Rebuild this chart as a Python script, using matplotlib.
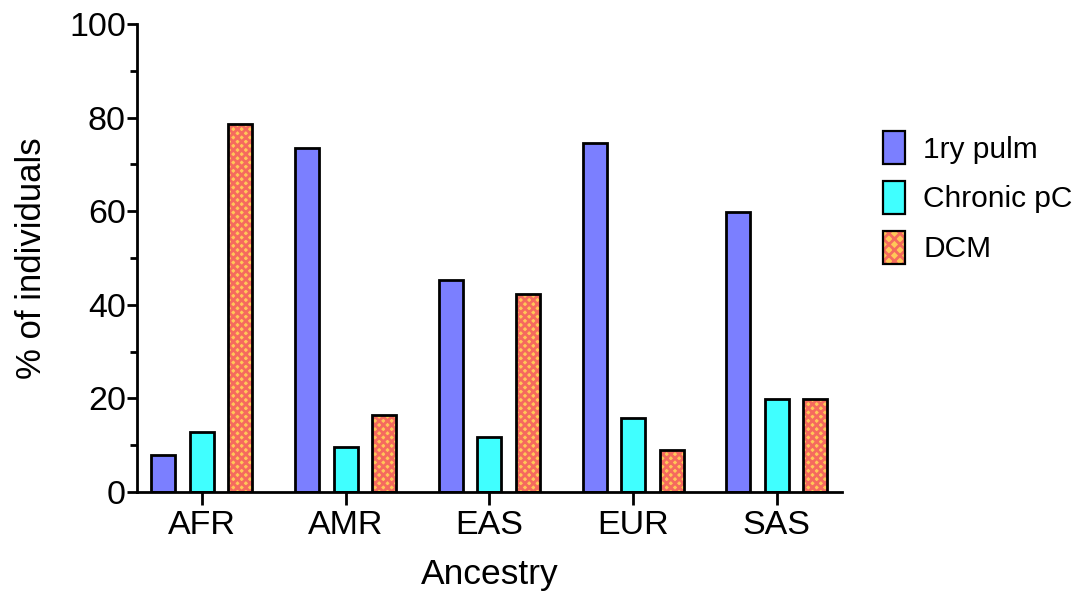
import numpy as np
import matplotlib
matplotlib.use('Agg')
import matplotlib.pyplot as plt
from matplotlib.patches import Patch
from matplotlib.legend_handler import HandlerTuple
from matplotlib.ticker import MultipleLocator

plt.rcParams['font.family'] = ['Liberation Sans', 'DejaVu Sans']

ancestry = ['AFR', 'AMR', 'EAS', 'EUR', 'SAS']
pulm = [7.9, 73.5, 45.3, 74.6, 59.8]
chronic = [12.8, 9.6, 11.8, 15.8, 19.8]
dcm = [78.6, 16.5, 42.3, 9.0, 19.8]
series_names = ['1ry pulm', 'Chronic pC', 'DCM']

blue = '#7B7FFF'
cyan = '#40FFFF'
dcm_bg = '#FFC857'
dcm_hatch = '#F56A5E'

fig = plt.figure(figsize=(10.81, 5.94), dpi=100)
ax = fig.add_axes([0.1267, 0.1717, 0.652, 0.788])

x = np.arange(len(ancestry))
w = 0.167
off = 0.268
lw = 2.0

ax.bar(x - off, pulm, w, color=blue, edgecolor='black', linewidth=lw, zorder=2)
ax.bar(x, chronic, w, color=cyan, edgecolor='black', linewidth=lw, zorder=2)
plt.rcParams['hatch.linewidth'] = 2.0
ax.bar(x + off, dcm, w, color=dcm_bg, edgecolor=dcm_hatch, hatch='xxxx', linewidth=0, zorder=2)
ax.bar(x + off, dcm, w, fill=False, edgecolor='black', linewidth=lw, zorder=3)

ax.set_xlim(-0.452, 4.452)
ax.set_ylim(0, 100)
ax.set_xticks(x)
ax.set_xticklabels(ancestry)
ax.yaxis.set_major_locator(MultipleLocator(20))
ax.yaxis.set_minor_locator(MultipleLocator(10))

for s in ['top', 'right']:
    ax.spines[s].set_visible(False)
for s in ['left', 'bottom']:
    ax.spines[s].set_linewidth(lw)

ax.tick_params(axis='y', which='major', length=7, width=lw, labelsize=24.5, pad=1)
ax.tick_params(axis='y', which='minor', length=5, width=lw)
ax.tick_params(axis='x', which='major', length=9, width=lw, labelsize=24.5, pad=4)

ax.set_xlabel('Ancestry', fontsize=25.5, labelpad=12)
ax.set_ylabel('% of individuals', fontsize=25, labelpad=15)

h1 = Patch(facecolor=blue, edgecolor='black', linewidth=1.6)
h2 = Patch(facecolor=cyan, edgecolor='black', linewidth=1.6)
h3a = Patch(facecolor=dcm_bg, edgecolor=dcm_hatch, hatch='xxx', linewidth=0)
h3b = Patch(fill=False, edgecolor='black', linewidth=1.6)
fig.legend([h1, h2, (h3a, h3b)], series_names,
           handler_map={tuple: HandlerTuple(ndivide=1)},
           loc='upper left', bbox_to_anchor=(0.8, 0.81),
           frameon=False, fontsize=21.5, handlelength=0.75, handleheight=1.35,
           labelspacing=0.55, handletextpad=0.6, borderpad=0.1)

fig.savefig('out.png', dpi=100)
